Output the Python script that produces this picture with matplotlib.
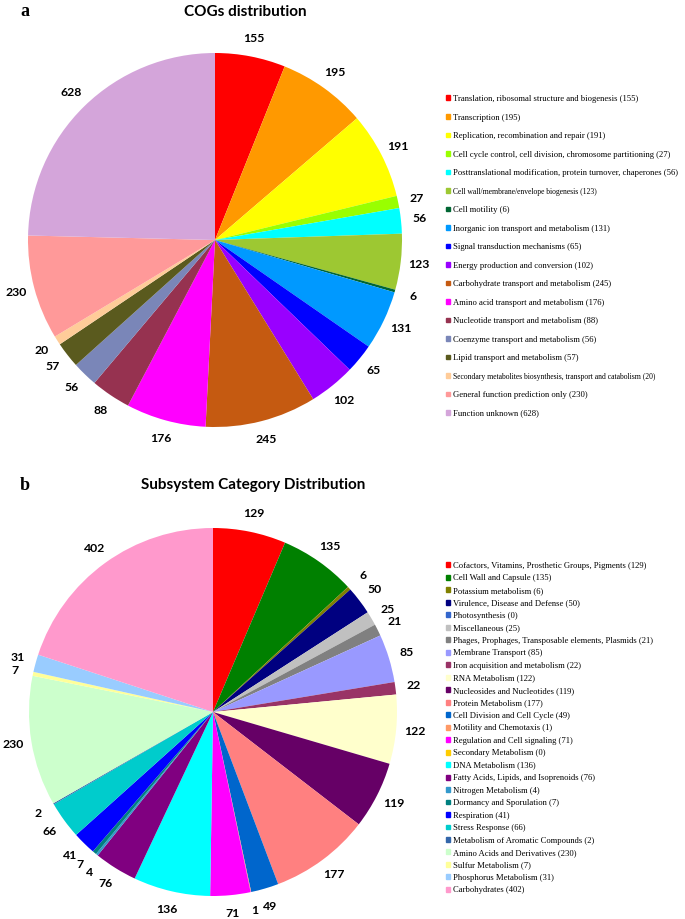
import matplotlib
matplotlib.use("Agg")
import numpy as np
import matplotlib.pyplot as plt
from matplotlib.patches import Patch

# ---- data: COGs distribution (panel a) ----
cog_names = [
    "Translation, ribosomal structure and biogenesis",
    "Transcription",
    "Replication, recombination and repair",
    "Cell cycle control, cell division, chromosome partitioning",
    "Posttranslational modification, protein turnover, chaperones",
    "Cell wall/membrane/envelope biogenesis",
    "Cell motility",
    "Inorganic ion transport and metabolism",
    "Signal transduction mechanisms",
    "Energy production and conversion",
    "Carbohydrate transport and metabolism",
    "Amino acid transport and metabolism",
    "Nucleotide transport and metabolism",
    "Coenzyme transport and metabolism",
    "Lipid transport and metabolism",
    "Secondary metabolites biosynthesis, transport and catabolism",
    "General function prediction only",
    "Function unknown",
]
cog_counts = [155, 195, 191, 27, 56, 123, 6, 131, 65, 102, 245, 176, 88, 56, 57, 20, 230, 628]
cog_colors = ["#FF0000", "#FF9900", "#FFFF00", "#99FF00", "#00FFFF", "#9DC832",
              "#006633", "#0099FF", "#0000FF", "#9900FF", "#C55A11", "#FF00FF",
              "#963250", "#7A86B8", "#5A5A1E", "#FFCC99", "#FF9999", "#D4A5DA"]

# ---- data: Subsystem categories (panel b) ----
sub_names = [
    "Cofactors, Vitamins, Prosthetic Groups, Pigments",
    "Cell Wall and Capsule",
    "Potassium metabolism",
    "Virulence, Disease and Defense",
    "Photosynthesis",
    "Miscellaneous",
    "Phages, Prophages, Transposable elements, Plasmids",
    "Membrane Transport",
    "Iron acquisition and metabolism",
    "RNA Metabolism",
    "Nucleosides and Nucleotides",
    "Protein Metabolism",
    "Cell Division and Cell Cycle",
    "Motility and Chemotaxis",
    "Regulation and Cell signaling",
    "Secondary Metabolism",
    "DNA Metabolism",
    "Fatty Acids, Lipids, and Isoprenoids",
    "Nitrogen Metabolism",
    "Dormancy and Sporulation",
    "Respiration",
    "Stress Response",
    "Metabolism of Aromatic Compounds",
    "Amino Acids and Derivatives",
    "Sulfur Metabolism",
    "Phosphorus Metabolism",
    "Carbohydrates",
]
sub_counts = [129, 135, 6, 50, 0, 25, 21, 85, 22, 122, 119, 177, 49, 1, 71, 0,
              136, 76, 4, 7, 41, 66, 2, 230, 7, 31, 402]
sub_colors = ["#FF0000", "#008000", "#808000", "#000080", "#3366CC", "#C0C0C0",
              "#808080", "#9999FF", "#993366", "#FFFFCC", "#660066", "#FF8080",
              "#0066CC", "#FF9966", "#FF00FF", "#FFCC00", "#00FFFF", "#800080",
              "#3399CC", "#008080", "#0000FF", "#00CCCC", "#3366AA", "#CCFFCC",
              "#FFFF99", "#99CCFF", "#FF99CC"]

W, H = 685, 919
fig = plt.figure(figsize=(W / 100, H / 100), dpi=100)


def px_axes(cx, cy, r):
    # axes box that exactly holds a pie of radius r (pixels) centred at (cx, cy)
    return fig.add_axes([(cx - r) / W, 1 - (cy + r) / H, 2 * r / W, 2 * r / H])


def spread(angles, min_sep=3.8, n_iter=100):
    # push apart labels of neighbouring thin slices (angles in degrees, sorted)
    a = np.array(angles, dtype=float)
    for _ in range(n_iter):
        moved = False
        for i in range(len(a) - 1):
            gap = a[i] - a[i + 1]  # clockwise order -> decreasing angles
            if gap < min_sep:
                d = (min_sep - gap) / 2
                a[i] += d
                a[i + 1] -= d
                moved = True
        if not moved:
            break
    return a


def draw_pie(ax, counts, colors, dist):
    wedges, _ = ax.pie(counts, colors=colors, startangle=90, counterclock=False,
                       wedgeprops=dict(linewidth=0))
    mids, vals = [], []
    for w, v in zip(wedges, counts):
        if v > 0:
            mids.append((w.theta1 + w.theta2) / 2)
            vals.append(v)
    for ang, v in zip(spread(mids), vals):
        t = np.deg2rad(ang)
        ax.text(dist * np.cos(t), dist * np.sin(t), str(v), ha="center", va="center",
                fontsize=8.8, fontweight="bold", family="Lato")
    ax.set_xlim(-1, 1)
    ax.set_ylim(-1, 1)
    ax.set_aspect("equal")


leg_kw = dict(loc="upper left", frameon=False, handlelength=0.5, handleheight=0.5,
              handletextpad=0.3, borderaxespad=0, borderpad=0,
              prop=dict(family="Liberation Serif", size=6.2))

# panel a
ax_a = px_axes(215, 240, 187)
draw_pie(ax_a, cog_counts, cog_colors, 1.1)
fig.text(20 / W, 1 - 12 / H, "a", fontsize=13, fontweight="bold",
         family="Liberation Serif", va="center")
fig.text(245 / W, 1 - 12 / H, "COGs distribution", fontsize=11, fontweight="bold",
         family="Lato", ha="center", va="center")

handles_a = [Patch(color=c, label=f"{n} ({v})") for n, v, c in zip(cog_names, cog_counts, cog_colors)]
leg_a = fig.legend(handles=handles_a, bbox_to_anchor=(446 / W, 1 - 95 / H),
                   labelspacing=1.22, **leg_kw)
# two long entries are set smaller in the original
for txt in leg_a.get_texts():
    if txt.get_text().startswith(("Cell wall", "Secondary metabolites")):
        txt.set_fontsize(5.5)

# panel b
ax_b = px_axes(213, 712, 184)
draw_pie(ax_b, sub_counts, sub_colors, 1.1)
fig.text(20 / W, 1 - 485 / H, "b", fontsize=13, fontweight="bold",
         family="Liberation Serif", va="center")
fig.text(253 / W, 1 - 485 / H, "Subsystem Category Distribution", fontsize=11,
         fontweight="bold", family="Lato", ha="center", va="center")

handles_b = [Patch(color=c, label=f"{n} ({v})") for n, v, c in zip(sub_names, sub_counts, sub_colors)]
fig.legend(handles=handles_b, bbox_to_anchor=(446 / W, 1 - 562 / H),
           labelspacing=0.52, **leg_kw)

fig.savefig("out.png", dpi=100)
